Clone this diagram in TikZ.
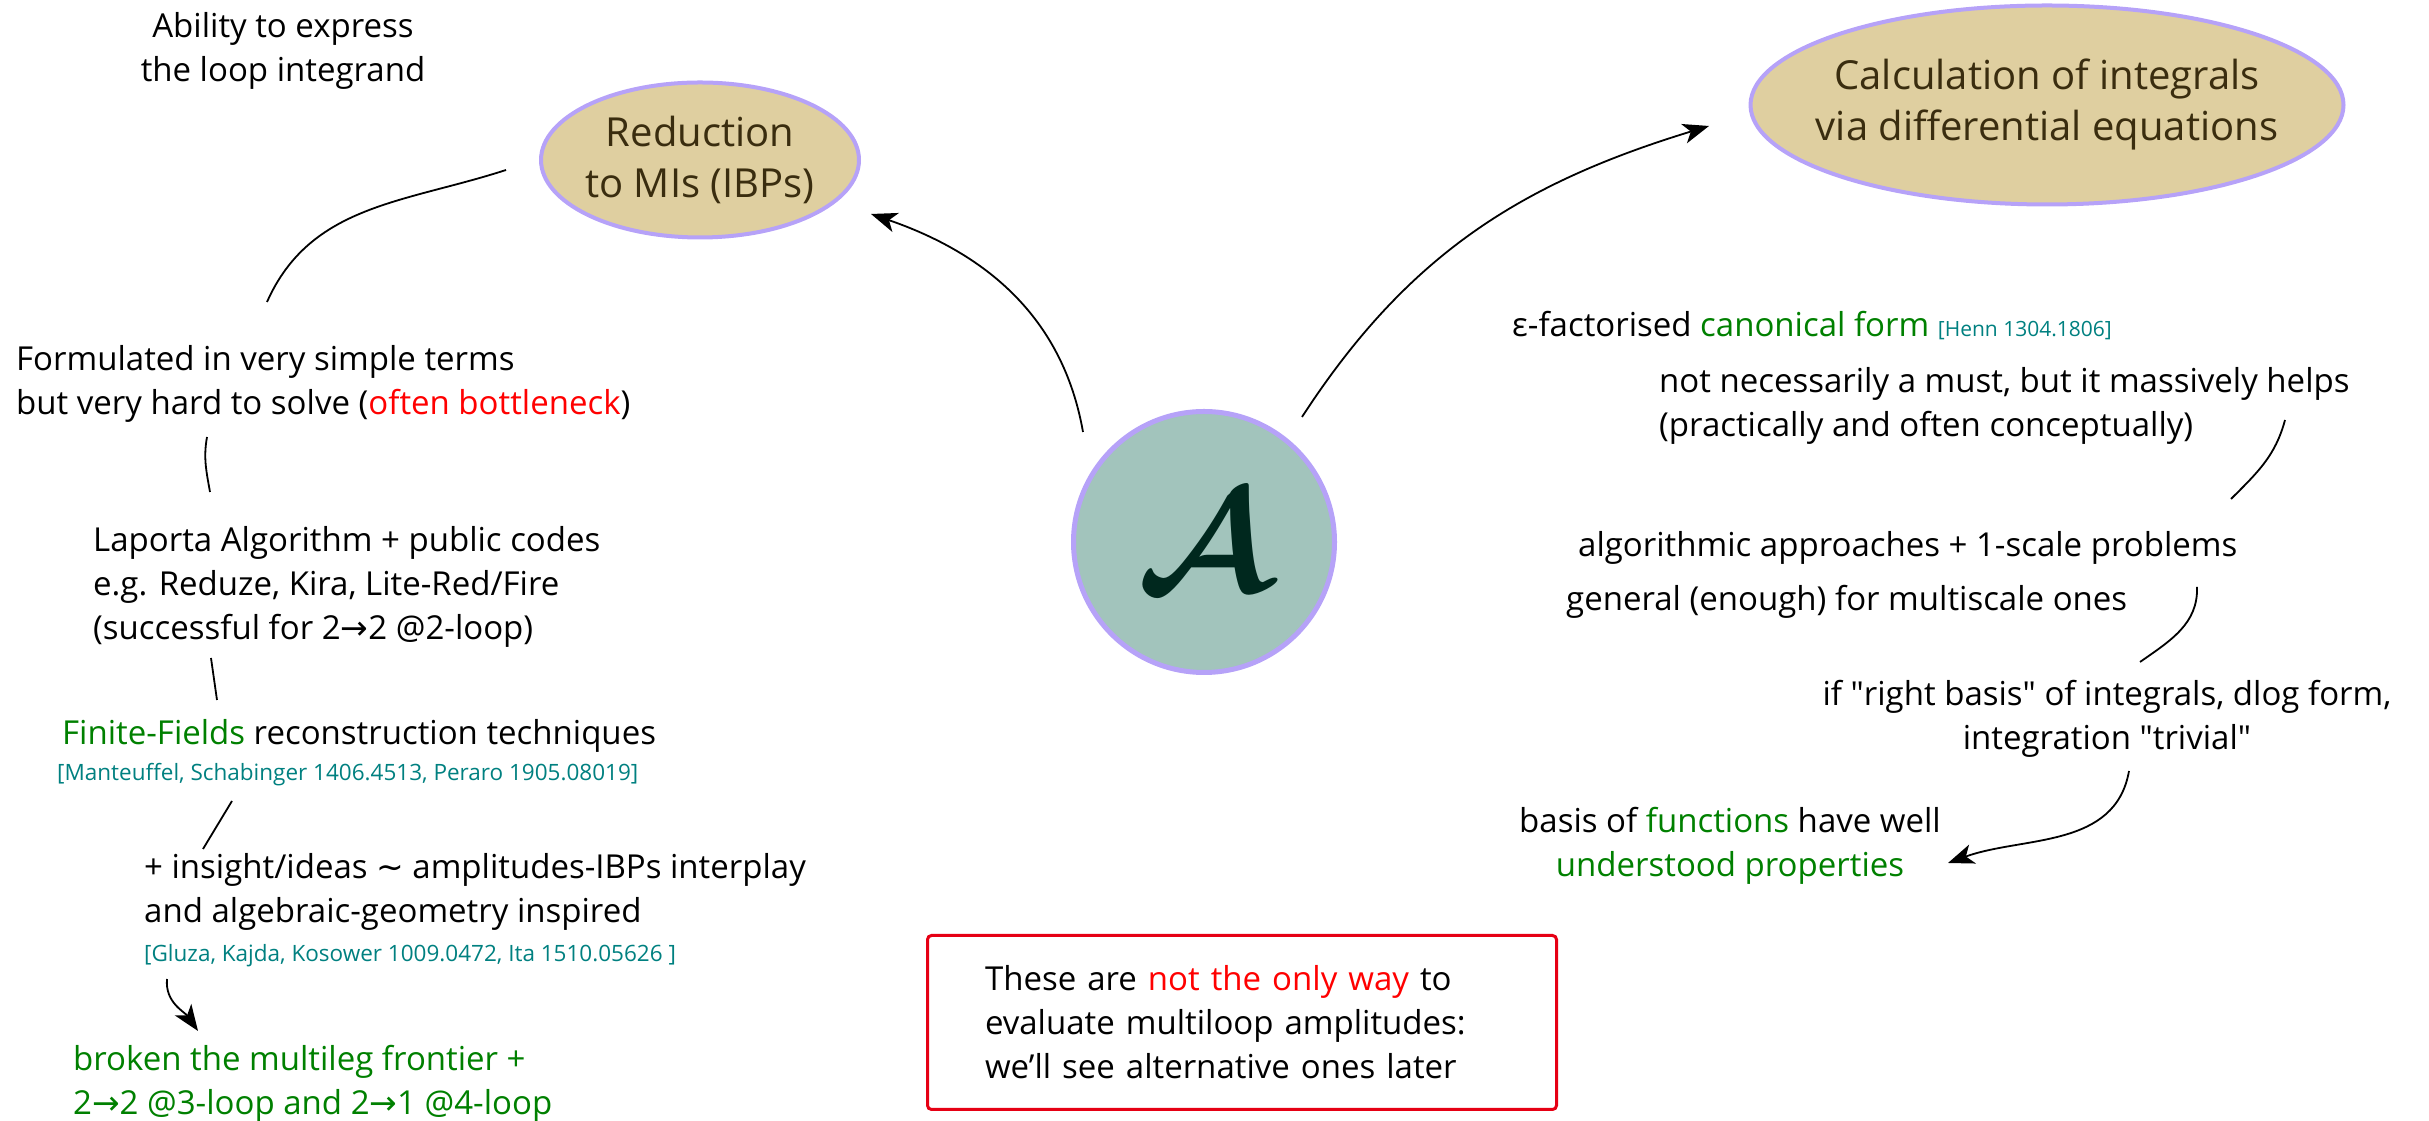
\documentclass[tikz,border=0pt]{standalone}
\usepackage{fontspec}
\setmainfont{Open Sans}
\newfontfamily\symf{DejaVu Sans}
\usepackage{graphicx}
\usetikzlibrary{shapes.geometric,arrows.meta,calc}
\definecolor{elltan}{RGB}{223,207,160}
\definecolor{lav}{RGB}{182,162,248}
\definecolor{circfill}{RGB}{162,196,188}
\definecolor{elltext}{RGB}{58,45,15}
\definecolor{adark}{RGB}{0,40,30}
\definecolor{ggreen}{RGB}{0,128,0}
\definecolor{cteal}{RGB}{0,128,128}
\definecolor{rred}{RGB}{255,0,0}
\definecolor{boxred}{RGB}{230,0,20}
\newcommand{\mainf}{\fontsize{33}{44}\selectfont}
\newcommand{\citef}{\fontsize{22.5}{26}\selectfont}
\newcommand{\ellf}{\fontsize{40}{51}\selectfont}
\newcommand{\arw}{{\symf →}}
\begin{document}
\begin{tikzpicture}[x=1pt,y=1pt,
  txt/.style={inner sep=0pt, font=\mainf, align=left, anchor=north west},
  ctxt/.style={inner sep=0pt, font=\mainf, align=center, anchor=north},
  cite/.style={inner sep=0pt, font=\citef, text=cteal, align=left, anchor=north west},
  ell/.style={ellipse, draw=lav, fill=elltan, line width=4pt, text=elltext, font=\ellf, align=center, inner xsep=-60pt, inner ysep=0pt},
  conn/.style={draw, line width=1.8pt},
  arr/.style={conn, -{Stealth[length=26pt,width=20pt,inset=7pt]}}]
\useasboundingbox (0,0) rectangle (2429,1121);

% main nodes
\node[circle, draw=lav, fill=circfill, line width=5pt, minimum size=261pt, inner sep=0pt, text=adark] (A) at (1204,579) {\scalebox{14.5}{\boldmath$\mathcal{A}$}};
\node[ell, minimum width=318pt, minimum height=155pt] (red) at (700,961) {Reduction\\to MIs (IBPs)};
\node[ell, minimum width=593pt, minimum height=199pt] (calc) at (2047,1016) {Calculation of integrals\\via differential equations};

% left column
\node[ctxt] (abil) at (283,1109) {Ability to express\\the loop integrand};
\node[txt] (form) at (16,776) {Formulated in very simple terms\\but very hard to solve (\textcolor{rred}{often bottleneck})};
\node[txt] (lap) at (93,595) {Laporta Algorithm + public codes\\e.g. Reduze, Kira, Lite-Red/Fire\\(successful for 2\arw2 @2-loop)};
\node[txt] (ff) at (62,402) {\textcolor{ggreen}{Finite-Fields} reconstruction techniques};
\node[cite] (ffcite) at (57,358) {[Manteuffel, Schabinger 1406.4513, Peraro 1905.08019]};
\node[txt] (ins) at (144,268) {+ insight/ideas {\symf ∼} amplitudes-IBPs interplay\\and algebraic-geometry inspired};
\node[cite] (inscite) at (144,177) {[Gluza, Kajda, Kosower 1009.0472, Ita 1510.05626 ]};
\node[txt, text=ggreen] (brk) at (73,76) {broken the multileg frontier +\\2\arw2 @3-loop and 2\arw1 @4-loop};

% right column
\node[txt] (eps) at (1512,810) {ε-factorised \textcolor{ggreen}{canonical form} {\fontsize{21}{24}\selectfont\textcolor{cteal}{[Henn 1304.1806]}}};
\node[txt] (nn) at (1659,754) {not necessarily a must, but it massively helps\\(practically and often conceptually)};
\node[txt] (alg) at (1578,590) {algorithmic approaches + 1-scale problems};
\node[txt] (gen) at (1566,536) {general (enough) for multiscale ones};
\node[ctxt] (rb) at (2107,441) {if \textquotedbl right basis\textquotedbl{} of integrals, dlog form,\\integration \textquotedbl trivial\textquotedbl};
\node[ctxt] (bf) at (1730,314) {basis of \textcolor{ggreen}{functions} have well\\\textcolor{ggreen}{understood properties}};

% note box
\node[draw=boxred, line width=3pt, rounded corners=4pt, minimum height=174pt, text width=514pt, inner xsep=57.5pt, align=left, font=\mainf] (note) at (1242,98.5) {These are \textcolor{rred}{not the only way} to\\evaluate multiloop amplitudes:\\we'll see alternative ones later};

% connectors
\draw[conn] ($(form.north west)+(251,43)$) to[out=66,in=198] ($(red.west)+(-33,-10)$);
\draw[conn] ($(form.north west)+(191,-92)$) to[out=-100,in=100] ($(lap.north west)+(117,34)$);
\draw[conn] ($(lap.north west)+(118,-132)$) -- ($(ff.north west)+(155,19)$);
\draw[conn] ($(ffcite.north west)+(175,-38)$) -- ($(ins.north west)+(59,4)$);
\draw[arr] ($(inscite.north west)+(23,-35)$) to[out=-95,in=125] ($(brk.north west)+(125,14)$);
\draw[arr] ($(A.center)+(-121,110)$) to[out=100,in=-19] ($(red.east)+(10,-54)$);
\draw[arr] ($(A.center)+(98,125)$) to[out=57,in=-163] ($(calc.west)+(-39.5,-21)$);
\draw[conn] ($(nn.north west)+(626,-53)$) to[out=-105,in=45] ($(alg.north west)+(653,32)$);
\draw[conn] ($(gen.north west)+(631,-2)$) to[out=-88,in=35] ($(rb.north)+(33,18)$);
\draw[arr] ($(rb.north)+(22,-91)$) to[out=-100,in=20] ($(bf.north)+(218,-56)$);
\end{tikzpicture}
\end{document}
